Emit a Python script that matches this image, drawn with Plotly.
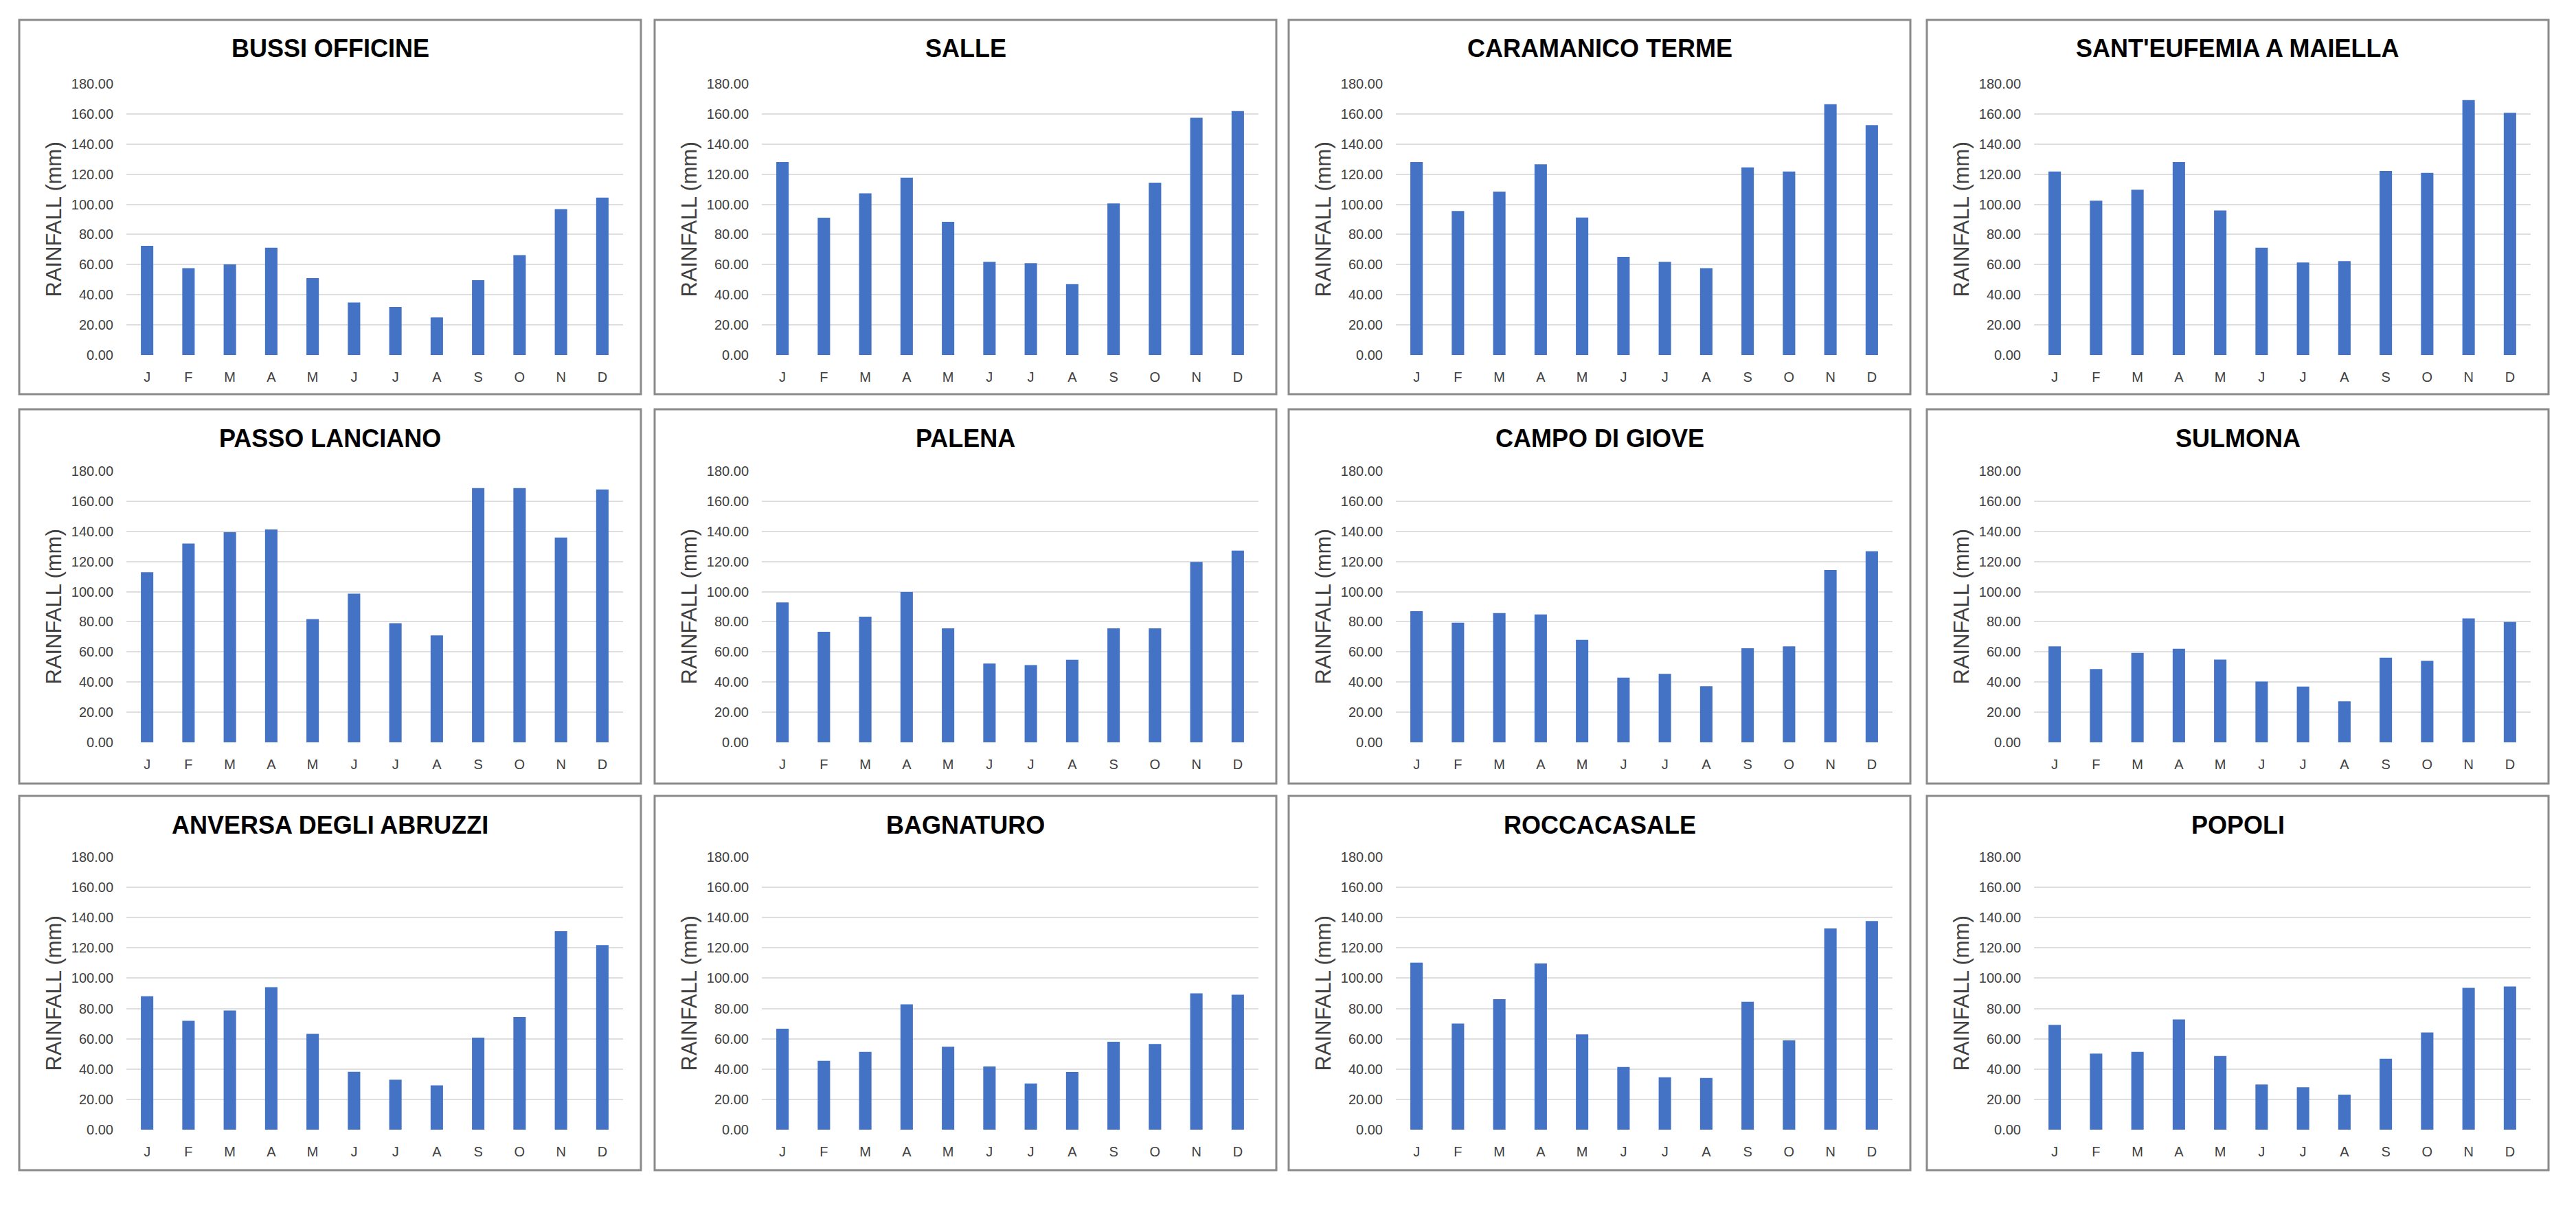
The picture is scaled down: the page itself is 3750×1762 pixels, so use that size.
import plotly.graph_objects as go

W, H = 3750, 1762
OFF = 8  # browser body margin offset compensation

MONTHS = ["Jan", "Feb", "Mar", "Apr", "May", "Jun", "Jul", "Aug", "Sep", "Oct", "Nov", "Dec"]
MONTH_LABELS = ["J", "F", "M", "A", "M", "J", "J", "A", "S", "O", "N", "D"]
Y_TICKS = [0, 20, 40, 60, 80, 100, 120, 140, 160, 180]

STATIONS = [
    "BUSSI OFFICINE", "SALLE", "CARAMANICO TERME", "SANT'EUFEMIA A MAIELLA",
    "PASSO LANCIANO", "PALENA", "CAMPO DI GIOVE", "SULMONA",
    "ANVERSA DEGLI ABRUZZI", "BAGNATURO", "ROCCACASALE", "POPOLI",
]

bussi_officine = [72.4, 57.6, 60.2, 71.2, 51.0, 34.9, 31.9, 24.9, 49.7, 66.3, 96.8, 104.5]
salle = [128.0, 91.1, 107.3, 117.7, 88.4, 61.9, 61.0, 47.1, 100.6, 114.4, 157.5, 161.9]
caramanico_terme = [128.0, 95.6, 108.5, 126.6, 91.2, 65.2, 61.9, 57.6, 124.5, 121.8, 166.4, 152.6]
sant_eufemia = [121.8, 102.4, 109.7, 128.0, 95.9, 71.2, 61.4, 62.3, 122.1, 120.9, 169.2, 160.8]
passo_lanciano = [112.9, 131.9, 139.5, 141.3, 81.8, 98.7, 79.1, 71.0, 168.7, 168.7, 135.9, 167.8]
palena = [92.8, 73.4, 83.4, 99.8, 75.7, 52.3, 51.3, 54.8, 75.7, 75.7, 119.7, 127.2]
campo_di_giove = [87.0, 79.4, 85.8, 84.9, 68.0, 42.9, 45.5, 37.2, 62.4, 63.7, 114.4, 126.8]
sulmona = [63.7, 48.7, 59.3, 62.1, 54.9, 40.3, 37.0, 27.2, 56.2, 54.1, 82.3, 79.9]
anversa = [88.1, 71.9, 78.7, 94.1, 63.2, 38.2, 33.0, 29.2, 60.7, 74.4, 131.0, 121.8]
bagnaturo = [66.7, 45.5, 51.3, 82.8, 54.8, 41.7, 30.5, 38.1, 58.0, 56.6, 90.0, 89.1]
roccacasale = [110.3, 70.1, 86.1, 109.7, 62.9, 41.4, 34.6, 34.1, 84.5, 58.9, 132.8, 137.7]
popoli = [69.2, 50.2, 51.3, 72.8, 48.6, 29.8, 28.0, 23.1, 46.8, 64.2, 93.6, 94.5]

SERIES = [
    bussi_officine, salle, caramanico_terme, sant_eufemia,
    passo_lanciano, palena, campo_di_giove, sulmona,
    anversa, bagnaturo, roccacasale, popoli,
]

# layout in pixels (page coordinates)
COL_LEFT = [28, 953, 1876, 2805]
BOX_W = 905
ROW_TOP = [29, 596, 1159]
BOX_H = 545
PLOT_X0, PLOT_X1 = 156, 879
PLOT_TOP = [93, 90, 89]
PLOT_BOT = [488, 485, 486]

BAR_COLOR = "#4472C4"
GRID = "#DEDEDE"
TXT = "#404040"
FONT = "Liberation Sans, Arial, sans-serif"


def px(x):
    return (x - OFF) / W


def py(y):
    return 1 - (y - OFF) / H


fig = go.Figure()
shapes = []
annotations = []

for i, (name, vals) in enumerate(zip(STATIONS, SERIES)):
    r, c = divmod(i, 4)
    k = i + 1
    xa = "x" if k == 1 else f"x{k}"
    ya = "y" if k == 1 else f"y{k}"
    left, top = COL_LEFT[c], ROW_TOP[r]

    fig.add_trace(go.Bar(
        x=MONTHS, y=vals, xaxis=xa, yaxis=ya,
        marker=dict(color=BAR_COLOR, line=dict(width=0)),
        showlegend=False,
    ))

    xdom = [px(left + PLOT_X0), px(left + PLOT_X1)]
    ydom = [py(top + PLOT_BOT[r]), py(top + PLOT_TOP[r])]
    xkey = "xaxis" if k == 1 else f"xaxis{k}"
    ykey = "yaxis" if k == 1 else f"yaxis{k}"
    fig.layout[xkey] = dict(
        domain=xdom, anchor=ya, type="category",
        tickvals=MONTHS, ticktext=MONTH_LABELS,
        showgrid=False, showline=False, zeroline=False,
        ticks="outside", ticklen=14, tickcolor="rgba(0,0,0,0)",
        tickfont=dict(family=FONT, size=20, color=TXT),
        range=[-0.5, 11.5], fixedrange=True, automargin=False,
    )
    fig.layout[ykey] = dict(
        domain=ydom, anchor=xa, range=[0, 180],
        tickvals=Y_TICKS, tickformat=".2f",
        showgrid=True, gridcolor=GRID, gridwidth=2,
        showline=False, zeroline=False,
        ticks="outside", ticklen=14, tickcolor="rgba(0,0,0,0)",
        tickfont=dict(family=FONT, size=20, color=TXT),
        fixedrange=True, automargin=False,
    )

    shapes.append(dict(
        type="rect", xref="paper", yref="paper",
        x0=px(left), x1=px(left + BOX_W), y0=py(top + BOX_H), y1=py(top),
        line=dict(color="#8A8A8A", width=3), fillcolor="rgba(0,0,0,0)",
        layer="above",
    ))
    annotations.append(dict(
        text=f"<b>{name}</b>", xref="paper", yref="paper",
        x=px(left + BOX_W / 2), y=py(top + 42),
        xanchor="center", yanchor="middle", showarrow=False,
        font=dict(family=FONT, size=36, color="#000000"),
    ))
    annotations.append(dict(
        text="RAINFALL (mm)", xref="paper", yref="paper",
        x=px(left + 50), y=py(top + (PLOT_TOP[r] + PLOT_BOT[r]) / 2),
        xanchor="center", yanchor="middle", showarrow=False, textangle=-90,
        font=dict(family=FONT, size=31, color=TXT),
    ))

fig.update_layout(
    width=W, height=H,
    margin=dict(l=0, r=0, t=0, b=0, autoexpand=False),
    paper_bgcolor="white", plot_bgcolor="white",
    bargap=0.7,
    shapes=shapes, annotations=annotations,
    showlegend=False,
)

fig.write_html("out.html", config={"displayModeBar": False})
